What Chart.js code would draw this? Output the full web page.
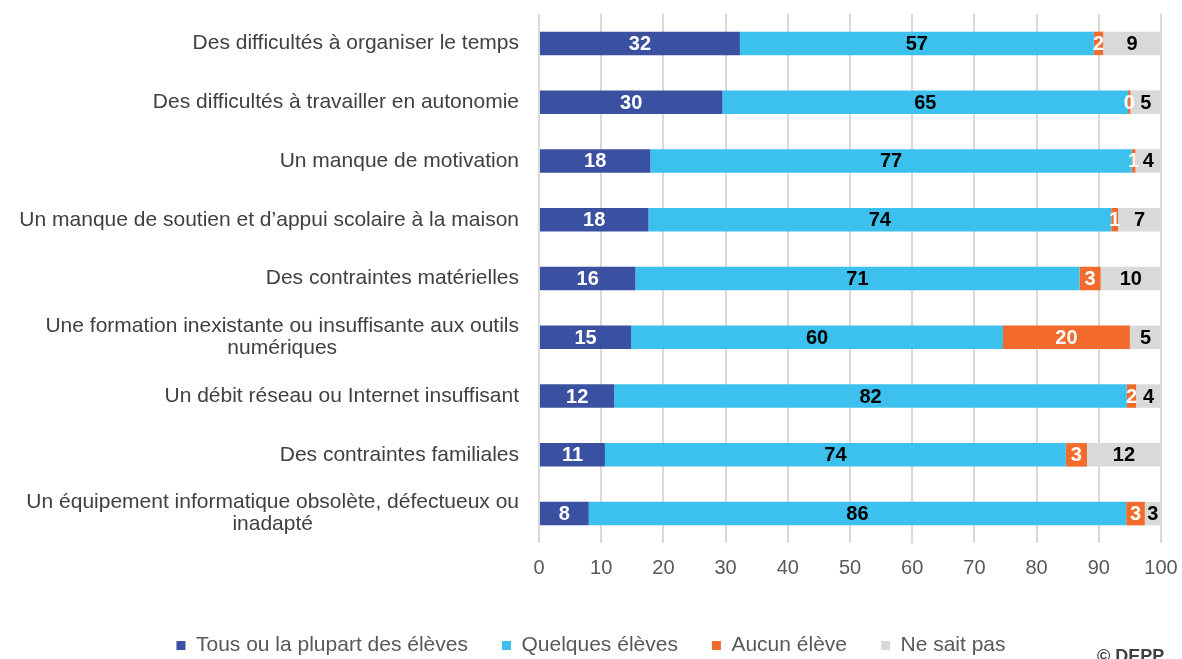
<!DOCTYPE html>
<html>
<head>
<meta charset="utf-8">
<script src="https://cdn.jsdelivr.net/npm/chart.js@4"></script>
<style>
  body { margin: 0; background: #fff; }
  #wrap { width: 1182px; height: 659px; position: relative; }
</style>
</head>
<body>
<div id="wrap"><canvas id="chart"></canvas></div>
<script>
const categories = [
  ['Des difficultés à organiser le temps'],
  ['Des difficultés à travailler en autonomie'],
  ['Un manque de motivation'],
  ['Un manque de soutien et d\u2019appui scolaire à la maison'],
  ['Des contraintes matérielles'],
  ['Une formation inexistante ou insuffisante aux outils', 'numériques'],
  ['Un débit réseau ou Internet insuffisant'],
  ['Des contraintes familiales'],
  ['Un équipement informatique obsolète, défectueux ou', 'inadapté'],
];
const seriesNames = ['Tous ou la plupart des élèves', 'Quelques élèves', 'Aucun élève', 'Ne sait pas'];
const tousOuLaPlupart = [32.3, 29.5, 17.9, 17.6, 15.5, 14.8, 12.1, 10.6, 8.0];
const quelques       = [56.9, 65.2, 77.4, 74.4, 71.4, 59.8, 82.4, 74.1, 86.4];
const aucun          = [1.5, 0.4, 0.6, 1.1, 3.4, 20.4, 1.5, 3.4, 3.0];
const neSaitPas      = [9.3, 4.9, 4.1, 6.9, 9.7, 5.0, 4.0, 11.9, 2.6];
const xTicks = [0, 10, 20, 30, 40, 50, 60, 70, 80, 90, 100];

const colors = ['#3a50a0', '#3cc0ee', '#f26b2c', '#d9d9d9'];
const labelColors = ['#ffffff', '#000000', '#ffffff', '#000000'];
const FONT = '"Liberation Sans", Arial, sans-serif';

// value labels in the middle of each segment
const segmentLabels = {
  id: 'segmentLabels',
  afterDatasetsDraw(chart) {
    const ctx = chart.ctx;
    ctx.save();
    ctx.font = 'bold 20px ' + FONT;
    ctx.textAlign = 'center';
    ctx.textBaseline = 'middle';
    chart.data.datasets.forEach((ds, di) => {
      chart.getDatasetMeta(di).data.forEach((bar, i) => {
        const cx = (bar.x + bar.base) / 2;
        ctx.fillStyle = labelColors[di];
        ctx.fillText(String(Math.round(ds.data[i])), cx, bar.y + 1);
      });
    });
    ctx.restore();
  }
};

// category labels: right-aligned block, lines centred inside the block
const categoryLabels = {
  id: 'categoryLabels',
  afterDraw(chart) {
    const ctx = chart.ctx;
    const yScale = chart.scales.y;
    ctx.save();
    ctx.font = '21px ' + FONT;
    ctx.fillStyle = '#404040';
    ctx.textAlign = 'center';
    ctx.textBaseline = 'middle';
    const right = chart.chartArea.left - 20;
    const lh = 22;
    categories.forEach((lines, i) => {
      const y = yScale.getPixelForTick(i);
      const w = Math.max(...lines.map(l => ctx.measureText(l).width));
      const cx = right - w / 2;
      lines.forEach((l, k) => {
        ctx.fillText(l, cx, y + (k - (lines.length - 1) / 2) * lh);
      });
    });
    ctx.font = 'bold 18px ' + FONT;
    ctx.textAlign = 'left';
    ctx.textBaseline = 'top';
    ctx.fillText('\u00a9 DEPP', 1097, 648);
    ctx.restore();
  }
};

const datasets = [tousOuLaPlupart, quelques, aucun, neSaitPas].map((d, i) => ({
  label: seriesNames[i],
  data: d,
  backgroundColor: colors[i],
  borderWidth: 0,
  barPercentage: 0.4,
  categoryPercentage: 1,
}));

new Chart(document.getElementById('chart'), {
  type: 'bar',
  data: { labels: categories, datasets },
  options: {
    indexAxis: 'y',
    responsive: true,
    maintainAspectRatio: false,
    animation: false,
    layout: { padding: { top: 14, right: 0, left: 0, bottom: -7 } },
    scales: {
      x: {
        stacked: true,
        min: 0,
        max: 100,
        ticks: {
          stepSize: 10,
          padding: 13,
          color: '#595959',
          font: { family: FONT, size: 20 },
          callback: (v) => xTicks.includes(v) ? String(v) : '',
        },
        grid: { color: '#d9d9d9', lineWidth: 2, drawTicks: false },
        border: { display: false },
        afterFit: (s) => { s.height += 8; s.paddingRight = 21; },
      },
      y: {
        stacked: true,
        ticks: { display: false },
        grid: { display: false },
        border: { display: false },
        afterFit: (s) => { s.width = 539; },
      },
    },
    plugins: {
      legend: {
        position: 'bottom',
        labels: {
          boxWidth: 9,
          boxHeight: 9,
          padding: 34,
          color: '#595959',
          font: { family: FONT, size: 21 },
        },
      },
      tooltip: { enabled: false },
    },
  },
  plugins: [segmentLabels, categoryLabels],
});
</script>
</body>
</html>
